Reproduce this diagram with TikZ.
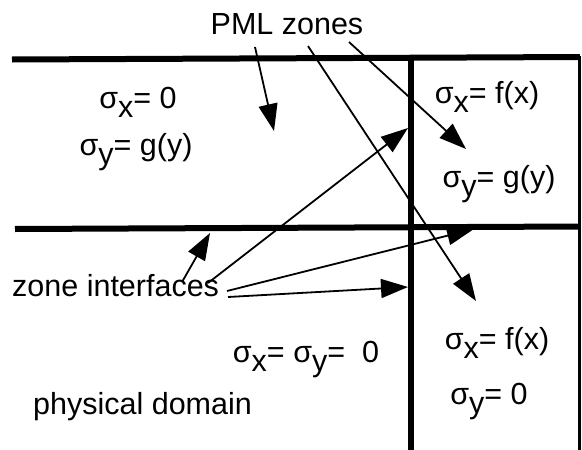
\documentclass[tikz,border=0pt]{standalone}
\usepackage{fontspec}
\setmainfont{Liberation Sans}
\usepackage{tikz}
\usetikzlibrary{arrows.meta}

% lowered subscript, same size as the sigma
\newcommand{\lowsub}[1]{\raisebox{-9pt}{#1}}

\begin{document}
\begin{tikzpicture}[x=1pt, y=-1pt,
    wall/.style={line width=6pt},
    rim/.style={line width=3pt},
    pointer/.style={line width=1.8pt, -{Triangle[length=27pt,width=19pt]}},
    lbl/.style={inner sep=0pt, anchor=base, font=\fontsize{30.5}{36}\selectfont}]

    \useasboundingbox (0,0) rectangle (582,450);

    % Zone walls (scan is a little tilted)
    \draw[wall] (12,59.5) -- (580,57);
    \draw[wall] (15,229) -- (580,226.5);
    \draw[wall] (411,55) -- (411,450);
    \draw[rim]  (579,56) -- (579,450);

    % Labels
    \node[lbl] (pml) at (287,34) {PML zones};
    \node[lbl] (ulx) at (138,108) {σ\lowsub{x}= 0};
    \node[lbl] (uly) at (136,155) {σ\lowsub{y}= g(y)};
    \node[lbl] (urx) at (487,103) {σ\lowsub{x}= f(x)};
    \node[lbl] (ury) at (499,187) {σ\lowsub{y}= g(y)};
    \node[lbl, anchor=base west] (zif) at (12,296) {zone interfaces};
    \node[lbl] (phy) at (306,362) {σ\lowsub{x}= σ\lowsub{y}=~~0};
    \node[lbl] (lrx) at (497,349) {σ\lowsub{x}= f(x)};
    \node[lbl] (lry) at (489,404) {σ\lowsub{y}= 0};
    \node[lbl, anchor=base west] (dom) at (33,414) {physical domain};

    % Arrow ends: from PML zones
    \coordinate (pA) at (255,47);
    \coordinate (pB) at (308,46);
    \coordinate (pC) at (349,42);
    \coordinate (tA) at (274,131);
    \coordinate (tB) at (476,301);
    \coordinate (tC) at (466,149);

    % Arrow ends: from zone interfaces
    \coordinate (zE) at (182,282);
    \coordinate (zD) at (208,283);
    \coordinate (zF) at (227,291);
    \coordinate (zG) at (228,297);
    \coordinate (tE) at (210,233);
    \coordinate (tD) at (408,128);
    \coordinate (tF) at (474,229);
    \coordinate (tG) at (408,287);

    % PML zones pointers
    \draw[pointer] (pA) -- (tA);
    \draw[pointer] (pB) -- (tB);
    \draw[pointer] (pC) -- (tC);

    % zone interfaces pointers
    \draw[pointer] (zE) -- (tE);
    \draw[pointer] (zD) -- (tD);
    \draw[pointer] (zF) -- (tF);
    \draw[pointer] (zG) -- (tG);

\end{tikzpicture}
\end{document}
